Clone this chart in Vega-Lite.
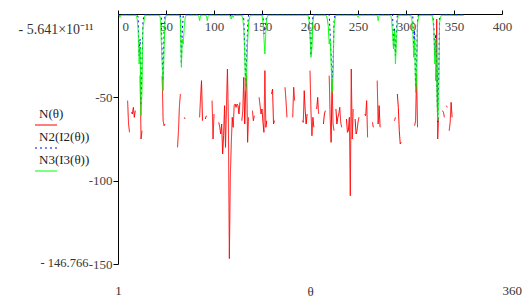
{
"$schema":"https://vega.github.io/schema/vega-lite/v6.json",
"width":384,"height":250,
"autosize":{"type":"none"},
"padding":{"left":118,"top":14,"right":26,"bottom":36},
"background":"white",
"config":{"view":{"stroke":null},"axis":{"grid":false}},
"data":{"values":[
{"t":1,"b":-0.4,"g":-0.8},{"t":2,"b":-1,"g":-2},{"t":3,"b":-0.4,"g":-0.8},{"t":4,"b":-0.4,"g":-0.8},{"t":5,"b":-0.4,"g":-0.8},{"t":6,"b":-0.4,"g":-0.8},{"t":7,"b":-0.4,"g":-0.8},{"t":8,"b":-0.4,"g":-0.8},{"t":9,"b":-0.4,"g":-0.8},
{"t":10,"n":-52,"b":-0.4,"g":-0.8},{"t":11,"n":-66,"b":-0.4,"g":-0.8},{"t":12,"n":-71,"b":-0.4,"g":-0.8},{"t":13,"b":-0.4,"g":-0.8},{"t":14,"n":-59,"b":-0.4,"g":-0.8},{"t":15,"n":-60,"b":-0.4,"g":-0.8},{"t":16,"n":-56,"b":-0.4,"g":-0.8},{"t":17,"n":-62,"b":-0.4,"g":-0.8},{"t":18,"n":-58,"b":-0.4,"g":-0.8},{"t":19,"b":-0.4,"g":-0.8},
{"t":20,"b":-0.4,"g":-3},{"t":21,"b":-2,"g":-10},{"t":22,"b":-25,"g":-30},{"t":23,"n":-37,"b":-15,"g":-20},{"t":24,"n":-75,"b":-55,"g":-61},{"t":25,"n":-70,"b":-30,"g":-45},{"t":26,"b":-5,"g":-8},{"t":27,"b":-0.4,"g":-5},{"t":28,"b":-0.4,"g":-0.8},{"t":29,"b":-0.4,"g":-0.8},
{"t":30,"b":-0.4,"g":-0.8},{"t":31,"b":-0.4,"g":-0.8},{"t":32,"b":-0.4,"g":-0.8},{"t":33,"b":-0.4,"g":-0.8},{"t":34,"b":-0.4,"g":-0.8},{"t":35,"b":-0.4,"g":-0.8},{"t":36,"b":-0.4,"g":-0.8},{"t":37,"b":-0.4,"g":-0.8},{"t":38,"b":-0.4,"g":-0.8},{"t":39,"b":-0.4,"g":-0.8},
{"t":40,"b":-0.4,"g":-0.8},{"t":41,"b":-0.4,"g":-0.8},{"t":42,"b":-0.4,"g":-0.8},{"t":43,"b":-0.4,"g":-0.8},{"t":44,"b":-0.4,"g":-2},{"t":45,"b":-0.4,"g":-15},{"t":46,"n":-37,"b":-25,"g":-30},{"t":47,"n":-64,"b":-40,"g":-46},{"t":48,"n":-67,"b":-10,"g":-20},{"t":49,"n":-66,"b":-0.4,"g":-4},
{"t":50,"b":-0.4,"g":-0.8},{"t":51,"b":-0.4,"g":-0.8},{"t":52,"b":-0.4,"g":-0.8},{"t":53,"b":-0.4,"g":-0.8},{"t":54,"b":-0.4,"g":-0.8},{"t":55,"b":-0.4,"g":-0.8},{"t":56,"b":-0.4,"g":-0.8},{"t":57,"b":-0.4,"g":-0.8},{"t":58,"b":-0.4,"g":-0.8},{"t":59,"b":-0.4,"g":-0.8},
{"t":60,"b":-0.4,"g":-0.8},{"t":61,"b":-0.4,"g":-0.8},{"t":62,"n":-80,"b":-0.4,"g":-0.8},{"t":63,"n":-70,"b":-0.4,"g":-0.8},{"t":64,"n":-55,"b":-0.4,"g":-0.8},{"t":65,"n":-48,"b":-0.4,"g":-3},{"t":66,"b":-30,"g":-32},{"t":67,"b":-10,"g":-15},{"t":68,"b":-0.4,"g":-18},{"t":69,"n":-62,"b":-0.4,"g":-8},
{"t":70,"n":-63,"b":-0.4,"g":-2},{"t":71,"b":-0.4,"g":-0.8},{"t":72,"b":-0.4,"g":-0.8},{"t":73,"b":-0.4,"g":-0.8},{"t":74,"b":-0.4,"g":-0.8},{"t":75,"b":-0.4,"g":-0.8},{"t":76,"b":-0.4,"g":-0.8},{"t":77,"b":-0.4,"g":-0.8},{"t":78,"b":-0.4,"g":-0.8},{"t":79,"b":-0.4,"g":-0.8},
{"t":80,"b":-0.4,"g":-0.8},{"t":81,"b":-0.4,"g":-0.8},{"t":82,"b":-0.4,"g":-0.8},{"t":83,"b":-0.4,"g":-0.8},{"t":84,"b":-0.4,"g":-0.8},{"t":85,"n":-62,"b":-0.4,"g":-4},{"t":86,"n":-50,"b":-0.4,"g":-0.8},{"t":87,"n":-40,"b":-0.4,"g":-0.8},{"t":88,"n":-64,"b":-0.4,"g":-0.8},{"t":89,"b":-0.4,"g":-0.8},
{"t":90,"b":-0.4,"g":-0.8},{"t":91,"n":-63,"b":-0.4,"g":-0.8},{"t":92,"n":-61,"b":-0.4,"g":-0.8},{"t":93,"b":-0.4,"g":-4},{"t":94,"b":-0.4,"g":-0.8},{"t":95,"b":-0.4,"g":-0.8},{"t":96,"b":-0.4,"g":-0.8},{"t":97,"b":-0.4,"g":-0.8},{"t":98,"n":-52,"b":-0.4,"g":-0.8},{"t":99,"n":-75,"b":-0.4,"g":-0.8},
{"t":100,"n":-60,"b":-0.4,"g":-0.8},{"t":101,"b":-0.4,"g":-0.8},{"t":102,"b":-0.4,"g":-0.8},{"t":103,"b":-0.4,"g":-0.8},{"t":104,"b":-0.4,"g":-0.8},{"t":105,"n":-65,"b":-0.4,"g":-0.8},{"t":106,"n":-68,"b":-0.4,"g":-0.8},{"t":107,"n":-72,"b":-0.4,"g":-0.8},{"t":108,"n":-66,"b":-0.4,"g":-0.8},{"t":109,"n":-84,"b":-0.4,"g":-0.8},
{"t":110,"n":-73,"b":-0.4,"g":-0.8},{"t":111,"n":-55,"b":-0.4,"g":-0.8},{"t":112,"n":-80,"b":-0.4,"g":-0.8},{"t":113,"n":-55,"b":-0.4,"g":-0.8},{"t":114,"n":-33,"b":-0.4,"g":-0.8},{"t":115,"n":-65,"b":-0.4,"g":-0.8},{"t":116,"n":-146.766,"b":-0.4,"g":-0.8},{"t":117,"n":-98,"b":-0.4,"g":-2},{"t":118,"n":-78,"b":-2,"g":-3},{"t":119,"n":-62,"b":-0.4,"g":-0.8},
{"t":120,"n":-68,"b":-0.4,"g":-2},{"t":121,"n":-55,"b":-0.4,"g":-0.8},{"t":122,"n":-54,"b":-0.4,"g":-0.8},{"t":123,"n":-56,"b":-0.4,"g":-0.8},{"t":124,"n":-54,"b":-0.4,"g":-0.8},{"t":125,"n":-55,"b":-0.4,"g":-0.8},{"t":126,"n":-60,"b":-0.4,"g":-0.8},{"t":127,"n":-53,"b":-0.4,"g":-0.8},{"t":128,"b":-0.4,"g":-0.8},{"t":129,"n":-64,"b":-0.4,"g":-0.8},
{"t":130,"n":-58,"b":-0.4,"g":-3},{"t":131,"n":-38,"b":-3,"g":-8},{"t":132,"n":-66,"b":-20,"g":-25},{"t":133,"n":-45,"b":-44,"g":-46},{"t":134,"n":-37,"b":-25,"g":-35},{"t":135,"n":-77,"b":-8,"g":-17},{"t":136,"n":-62,"b":-0.4,"g":-6},{"t":137,"b":-0.4,"g":-2},{"t":138,"b":-0.4,"g":-0.8},{"t":139,"b":-0.4,"g":-0.8},
{"t":140,"n":-58,"b":-0.4,"g":-0.8},{"t":141,"n":-64,"b":-0.4,"g":-0.8},{"t":142,"n":-61,"b":-0.4,"g":-0.8},{"t":143,"b":-0.4,"g":-0.8},{"t":144,"b":-0.4,"g":-0.8},{"t":145,"b":-0.4,"g":-0.8},{"t":146,"b":-0.4,"g":-0.8},{"t":147,"n":-50,"b":-0.4,"g":-0.8},{"t":148,"n":-55,"b":-0.4,"g":-0.8},{"t":149,"n":-60,"b":-0.4,"g":-0.8},
{"t":150,"n":-57,"b":-0.4,"g":-0.8},{"t":151,"n":-65,"b":-0.4,"g":-5},{"t":152,"n":-71,"b":-12,"g":-14},{"t":153,"n":-34,"b":-10,"g":-24},{"t":154,"n":-68,"b":-5,"g":-10},{"t":155,"n":-64,"b":-0.4,"g":-3},{"t":156,"b":-0.4,"g":-0.8},{"t":157,"b":-0.4,"g":-0.8},{"t":158,"b":-0.4,"g":-0.8},{"t":159,"b":-0.4,"g":-0.8},
{"t":160,"n":-48,"b":-0.4,"g":-0.8},{"t":161,"n":-45,"b":-0.4,"g":-0.8},{"t":162,"n":-66,"b":-0.4,"g":-0.8},{"t":163,"n":-64,"b":-0.4,"g":-0.8},{"t":164,"b":-0.4,"g":-0.8},{"t":165,"b":-0.4,"g":-0.8},{"t":166,"b":-0.4,"g":-0.8},{"t":167,"b":-0.4,"g":-0.8},{"t":168,"b":-0.4,"g":-0.8},{"t":169,"b":-0.4,"g":-0.8},
{"t":170,"b":-0.4,"g":-0.8},{"t":171,"b":-0.4,"g":-0.8},{"t":172,"b":-0.4,"g":-0.8},{"t":173,"b":-0.4,"g":-0.8},{"t":174,"n":-44,"b":-0.4,"g":-0.8},{"t":175,"n":-52,"b":-0.4,"g":-0.8},{"t":176,"n":-62,"b":-0.4,"g":-0.8},{"t":177,"b":-0.4,"g":-0.8},{"t":178,"b":-0.4,"g":-0.8},{"t":179,"b":-0.4,"g":-0.8},
{"t":180,"b":-0.4,"g":-0.8},{"t":181,"b":-0.4,"g":-0.8},{"t":182,"n":-62,"b":-0.4,"g":-0.8},{"t":183,"n":-44,"b":-0.4,"g":-0.8},{"t":184,"n":-52,"b":-0.4,"g":-0.8},{"t":185,"b":-0.4,"g":-0.8},{"t":186,"b":-0.4,"g":-0.8},{"t":187,"b":-0.4,"g":-0.8},{"t":188,"b":-0.4,"g":-0.8},{"t":189,"b":-0.4,"g":-0.8},
{"t":190,"b":-0.4,"g":-0.8},{"t":191,"b":-0.4,"g":-0.8},{"t":192,"n":-64,"b":-0.4,"g":-0.8},{"t":193,"n":-65,"b":-0.4,"g":-0.8},{"t":194,"n":-46,"b":-0.4,"g":-0.8},{"t":195,"n":-58,"b":-0.4,"g":-0.8},{"t":196,"n":-66,"b":-0.4,"g":-0.8},{"t":197,"n":-60,"b":-0.4,"g":-0.8},{"t":198,"b":-0.4,"g":-0.8},{"t":199,"b":-0.4,"g":-4},
{"t":200,"n":-34,"b":-10,"g":-12},{"t":201,"n":-58,"b":-25,"g":-26},{"t":202,"n":-73,"b":-15,"g":-20},{"t":203,"n":-62,"b":-0.4,"g":-5},{"t":204,"n":-68,"b":-0.4,"g":-0.8},{"t":205,"b":-0.4,"g":-0.8},{"t":206,"b":-0.4,"g":-0.8},{"t":207,"n":-57,"b":-0.4,"g":-0.8},{"t":208,"n":-50,"b":-0.4,"g":-0.8},{"t":209,"n":-60,"b":-0.4,"g":-0.8},
{"t":210,"b":-0.4,"g":-0.8},{"t":211,"b":-0.4,"g":-0.8},{"t":212,"b":-0.4,"g":-0.8},{"t":213,"b":-0.4,"g":-0.8},{"t":214,"n":-66,"b":-0.4,"g":-0.8},{"t":215,"n":-60,"b":-0.4,"g":-0.8},{"t":216,"n":-58,"b":-0.4,"g":-0.8},{"t":217,"b":-0.4,"g":-0.8},{"t":218,"b":-0.4,"g":-3},{"t":219,"b":-0.4,"g":-7},
{"t":220,"n":-37,"b":-0.4,"g":-18},{"t":221,"n":-62,"b":-12,"g":-15},{"t":222,"n":-77,"b":-25,"g":-30},{"t":223,"n":-40,"b":-40,"g":-47},{"t":224,"n":-66,"b":-30,"g":-38},{"t":225,"n":-70,"b":-5,"g":-8},{"t":226,"b":-0.4,"g":-3},{"t":227,"n":-57,"b":-0.4,"g":-0.8},{"t":228,"n":-66,"b":-0.4,"g":-0.8},{"t":229,"n":-62,"b":-0.4,"g":-0.8},
{"t":230,"n":-60,"b":-0.4,"g":-0.8},{"t":231,"n":-56,"b":-0.4,"g":-0.8},{"t":232,"n":-65,"b":-0.4,"g":-0.8},{"t":233,"n":-68,"b":-0.4,"g":-0.8},{"t":234,"b":-0.4,"g":-0.8},{"t":235,"b":-0.4,"g":-0.8},{"t":236,"b":-0.4,"g":-0.8},{"t":237,"b":-0.4,"g":-0.8},{"t":238,"n":-63,"b":-0.4,"g":-0.8},{"t":239,"n":-71,"b":-0.4,"g":-0.8},
{"t":240,"n":-70,"b":-0.4,"g":-0.8},{"t":241,"n":-62,"b":-0.4,"g":-0.8},{"t":242,"n":-109,"b":-0.4,"g":-0.8},{"t":243,"n":-33,"b":-0.4,"g":-0.8},{"t":244,"n":-75,"b":-0.4,"g":-0.8},{"t":245,"n":-57,"b":-0.4,"g":-0.8},{"t":246,"b":-0.4,"g":-0.8},{"t":247,"n":-63,"b":-0.4,"g":-0.8},{"t":248,"n":-72,"b":-0.4,"g":-0.8},{"t":249,"n":-70,"b":-0.4,"g":-0.8},
{"t":250,"n":-65,"b":-0.4,"g":-2},{"t":251,"n":-62,"b":-0.4,"g":-0.8},{"t":252,"b":-0.4,"g":-0.8},{"t":253,"b":-0.4,"g":-0.8},{"t":254,"b":-0.4,"g":-0.8},{"t":255,"b":-0.4,"g":-0.8},{"t":256,"b":-0.4,"g":-0.8},{"t":257,"n":-60,"b":-0.4,"g":-0.8},{"t":258,"n":-61,"b":-0.4,"g":-0.8},{"t":259,"n":-52,"b":-0.4,"g":-0.8},
{"t":260,"n":-74,"b":-0.4,"g":-0.8},{"t":261,"b":-0.4,"g":-0.8},{"t":262,"b":-0.4,"g":-0.8},{"t":263,"b":-0.4,"g":-0.8},{"t":264,"b":-0.4,"g":-0.8},{"t":265,"n":-65,"b":-0.4,"g":-0.8},{"t":266,"n":-68,"b":-0.4,"g":-0.8},{"t":267,"b":-0.4,"g":-0.8},{"t":268,"b":-0.4,"g":-0.8},{"t":269,"b":-0.4,"g":-0.8},
{"t":270,"n":-40,"b":-0.4,"g":-0.8},{"t":271,"n":-66,"b":-0.4,"g":-4},{"t":272,"n":-55,"b":-0.4,"g":-0.8},{"t":273,"n":-68,"b":-0.4,"g":-0.8},{"t":274,"b":-0.4,"g":-0.8},{"t":275,"b":-0.4,"g":-0.8},{"t":276,"b":-0.4,"g":-0.8},{"t":277,"b":-0.4,"g":-0.8},{"t":278,"b":-0.4,"g":-0.8},{"t":279,"b":-0.4,"g":-0.8},
{"t":280,"b":-0.4,"g":-0.8},{"t":281,"b":-0.4,"g":-0.8},{"t":282,"b":-0.4,"g":-0.8},{"t":283,"b":-0.4,"g":-0.8},{"t":284,"b":-0.4,"g":-0.8},{"t":285,"b":-0.4,"g":-3},{"t":286,"b":-0.4,"g":-12},{"t":287,"b":-20,"g":-21},{"t":288,"n":-64,"b":-8,"g":-10},{"t":289,"n":-62,"b":-25,"g":-30},
{"t":290,"b":-10,"g":-18},{"t":291,"n":-48,"b":-0.4,"g":-4},{"t":292,"n":-56,"b":-0.4,"g":-0.8},{"t":293,"n":-70,"b":-0.4,"g":-0.8},{"t":294,"n":-78,"b":-0.4,"g":-0.8},{"t":295,"n":-77,"b":-0.4,"g":-0.8},{"t":296,"b":-0.4,"g":-0.8},{"t":297,"b":-0.4,"g":-0.8},{"t":298,"b":-0.4,"g":-0.8},{"t":299,"b":-0.4,"g":-0.8},
{"t":300,"b":-0.4,"g":-0.8},{"t":301,"b":-0.4,"g":-0.8},{"t":302,"b":-0.4,"g":-0.8},{"t":303,"b":-0.4,"g":-0.8},{"t":304,"b":-0.4,"g":-0.8},{"t":305,"b":-0.4,"g":-0.8},{"t":306,"b":-0.4,"g":-3},{"t":307,"b":-0.4,"g":-8},{"t":308,"b":-20,"g":-26},{"t":309,"n":-67,"b":-10,"g":-15},
{"t":310,"n":-64,"b":-44,"g":-47},{"t":311,"n":-36,"b":-30,"g":-40},{"t":312,"n":-68,"b":-4,"g":-6},{"t":313,"b":-0.4,"g":-2},{"t":314,"b":-0.4,"g":-0.8},{"t":315,"b":-0.4,"g":-0.8},{"t":316,"b":-0.4,"g":-0.8},{"t":317,"b":-0.4,"g":-0.8},{"t":318,"b":-0.4,"g":-0.8},{"t":319,"b":-0.4,"g":-0.8},
{"t":320,"b":-0.4,"g":-0.8},{"t":321,"b":-0.4,"g":-0.8},{"t":322,"b":-0.4,"g":-0.8},{"t":323,"b":-0.4,"g":-0.8},{"t":324,"b":-0.4,"g":-0.8},{"t":325,"b":-0.4,"g":-0.8},{"t":326,"b":-0.4,"g":-0.8},{"t":327,"b":-0.4,"g":-0.8},{"t":328,"b":-0.4,"g":-3},{"t":329,"b":-8,"g":-10},
{"t":330,"b":-25,"g":-30},{"t":331,"n":-40,"b":-12,"g":-15},{"t":332,"n":-3,"b":-35,"g":-40},{"t":333,"n":-75,"b":-65,"g":-64},{"t":334,"n":-62,"b":-40,"g":-55},{"t":335,"b":-3,"g":-5},{"t":336,"b":-0.4,"g":-2},{"t":337,"b":-0.4,"g":-0.8},{"t":338,"n":-58,"b":-0.4,"g":-0.8},{"t":339,"n":-59,"b":-0.4,"g":-0.8},
{"t":340,"n":-62,"b":-0.4,"g":-0.8},{"t":341,"b":-0.4,"g":-0.8},{"t":342,"n":-55,"b":-0.4,"g":-0.8},{"t":343,"n":-56,"b":-0.4,"g":-0.8},{"t":344,"b":-0.4,"g":-0.8},{"t":345,"n":-70,"b":-0.4,"g":-0.8},{"t":346,"n":-65,"b":-0.4,"g":-0.8},{"t":347,"n":-53,"b":-0.4,"g":-0.8},{"t":348,"n":-62,"b":-0.4,"g":-0.8},{"t":349,"b":-0.4,"g":-0.8},
{"t":350,"b":-0.4,"g":-0.8},{"t":351,"b":-0.4,"g":-0.8},{"t":352,"b":-0.4,"g":-0.8},{"t":353,"b":-0.4,"g":-0.8},{"t":354,"b":-0.4,"g":-0.8},{"t":355,"b":-0.4,"g":-0.8},{"t":356,"b":-0.4,"g":-0.8},{"t":357,"b":-0.4,"g":-0.8},{"t":358,"b":-0.4,"g":-0.8},{"t":359,"b":-0.4,"g":-0.8},
{"t":360,"b":-0.4,"g":-0.8}
]},
"layer":[
{
"transform":[{"fold":["n","b","g"],"as":["s","v"]}],
"mark":{"type":"line","strokeWidth":1,"invalid":"break-paths-show-domains"},
"encoding":{
"x":{"field":"t","type":"quantitative","scale":{"domain":[0,400],"nice":false,"zero":false},
"axis":{"orient":"top","title":null,"values":[0,50,100,150,200,250,300,350,400],"domainColor":"black","domainWidth":1,"tickColor":"black","tickSize":4,"tickWidth":1,"labelFont":"Liberation Serif","labelFontSize":13,"labelColor":"#444444","labelBaseline":"middle","labelPadding":-16,"labelFlush":false,"labelOverlap":false,
"labelAlign":{"condition":{"test":"datum.value === 0","value":"left"},"value":"center"},
"labelOffset":{"condition":{"test":"datum.value === 0","value":4},"value":0}}},
"y":{"field":"v","type":"quantitative","scale":{"domain":[-150,0],"nice":false,"zero":false},
"axis":{"orient":"left","title":null,"values":[-50,-100,-150],"labelExpr":"'-' + abs(datum.value)","domainColor":"black","domainWidth":1,"tickColor":"black","tickSize":5,"tickWidth":1,"labelPadding":1,"labelFont":"Liberation Serif","labelFontSize":13,"labelColor":"#444444","labelFlush":false}},
"color":{"field":"s","type":"nominal","scale":{"domain":["n","b","g"],"range":["#ff0000","#0000ff","#00ff00"]},
"legend":{"title":null,"orient":"none","legendX":-84,"legendY":99,"padding":0,"direction":"vertical","symbolType":"stroke","symbolSize":484,"symbolStrokeWidth":1.2,"labelFont":"Liberation Serif","labelFontSize":13,"labelColor":"#222222","labelOffset":-19,"rowPadding":3,
"labelExpr":"datum.value === 'n' ? 'N(θ)' : datum.value === 'b' ? 'N2(I2(θ))' : 'N3(I3(θ))'",
"encode":{"labels":{"update":{"dy":{"value":-11}}}}}},
"strokeDash":{"field":"s","type":"nominal","scale":{"domain":["n","b","g"],"range":[[1,0],[2,3],[1,0]]},
"legend":{"title":null,"orient":"none","legendX":-84,"legendY":99,"padding":0,"direction":"vertical","symbolType":"stroke","symbolSize":484,"symbolStrokeWidth":1.2,"labelFont":"Liberation Serif","labelFontSize":13,"labelColor":"#222222","labelOffset":-19,"rowPadding":3,
"labelExpr":"datum.value === 'n' ? 'N(θ)' : datum.value === 'b' ? 'N2(I2(θ))' : 'N3(I3(θ))'",
"encode":{"labels":{"update":{"dy":{"value":-11}}}}}}
}
},
{
"data":{"values":[{"px":0,"py":-9},{"px":400,"py":-149}]},
"mark":{"type":"point","opacity":0},
"encoding":{
"x":{"field":"px","type":"quantitative","scale":{"domain":[0,400],"nice":false,"zero":false},
"axis":{"orient":"bottom","values":[0,400],"labelExpr":"datum.value === 0 ? '1' : '360'","domain":false,"ticks":false,"labelPadding":20,"labelFont":"Liberation Serif","labelFontSize":13,"labelColor":"#333333","labelFlush":false,
"labelAlign":{"condition":{"test":"datum.value > 200","value":"left"},"value":"center"},
"title":"θ","titleFont":"Liberation Serif","titleFontSize":13,"titleFontWeight":"normal","titleColor":"#333333","titleY":27,"titleBaseline":"middle"}},
"y":{"field":"py","type":"quantitative","scale":{"domain":[-150,0],"nice":false,"zero":false},
"axis":{"orient":"left","title":null,"values":[-9,-149],"labelExpr":"datum.value > -50 ? '- 5.641×10⁻¹¹' : '- 146.766'","domain":false,"ticks":false,
"labelPadding":{"condition":{"test":"datum.value > -50","value":25},"value":30},
"labelFontSize":{"condition":{"test":"datum.value > -50","value":14},"value":12.5},
"labelFont":"Liberation Serif","labelColor":"#333333","labelFlush":false}}
}
}
],
"resolve":{"scale":{"x":"independent","y":"independent"}}
}
